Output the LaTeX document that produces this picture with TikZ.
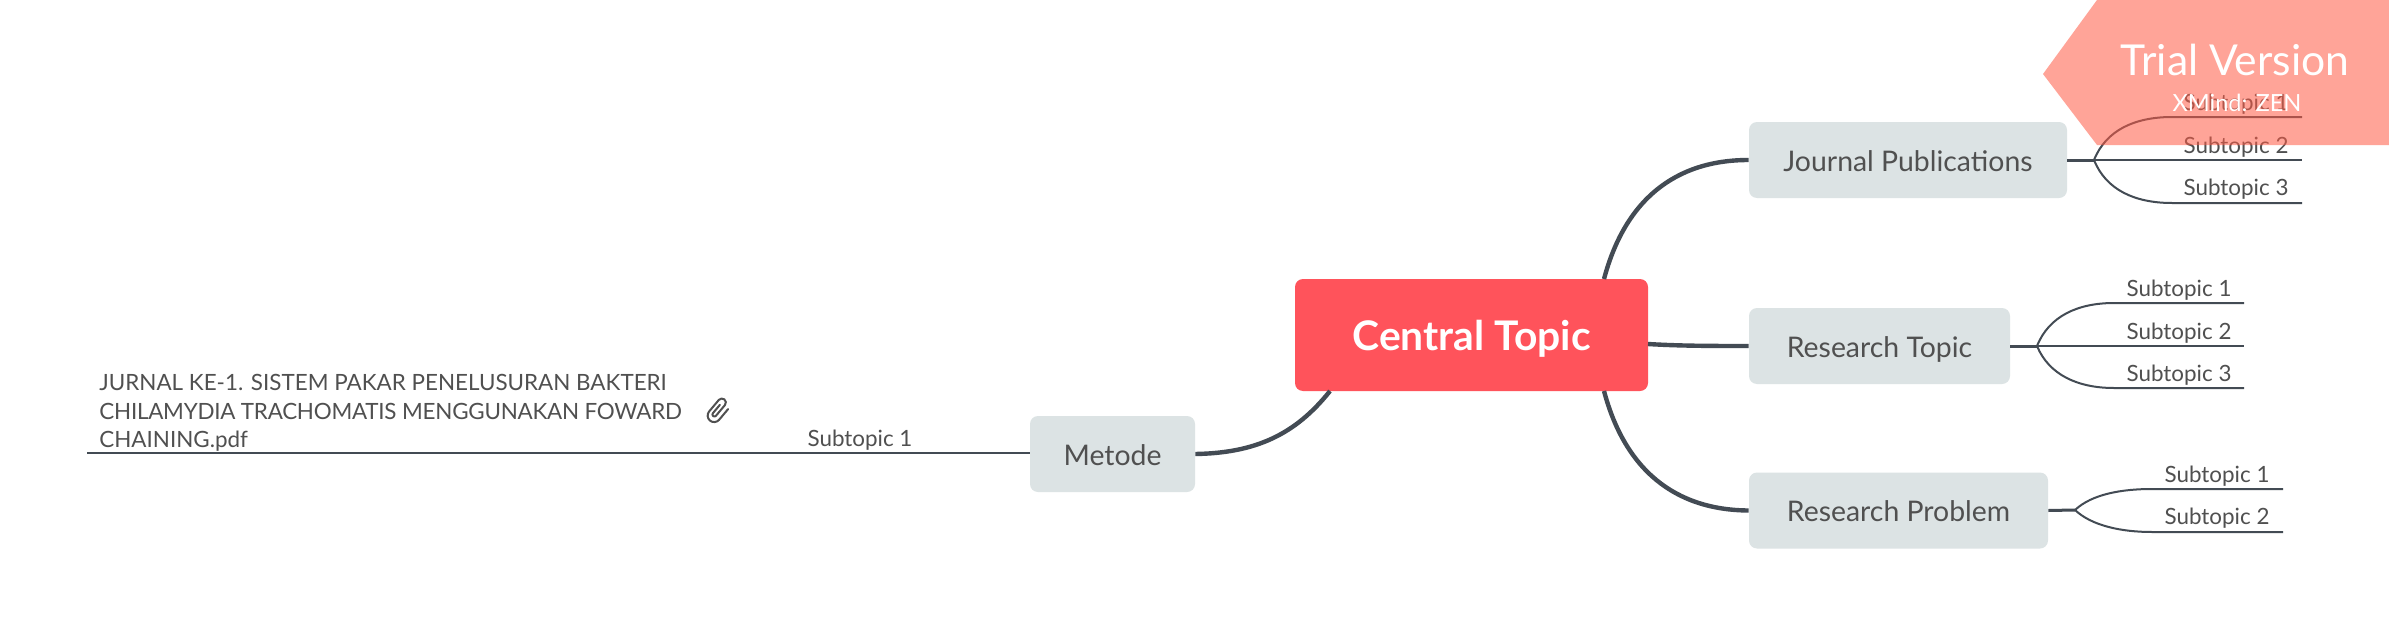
\documentclass[tikz,border=0pt]{standalone}
\usepackage{fontspec}
\setmainfont{Lato}
\definecolor{linec}{HTML}{434B54}
\definecolor{boxc}{HTML}{DCE3E4}
\definecolor{txtc}{HTML}{505050}
\definecolor{redc}{HTML}{FF535B}
\definecolor{banc}{HTML}{FF5A45}
\tikzset{
 main/.style={draw=none,fill=boxc,rounded corners=4pt,inner sep=0pt,text=txtc,text height=12pt,text depth=1pt,font=\fontsize{14.2}{17}\selectfont},
 stem/.style={draw=linec,line width=2.2pt},
 fork/.style={draw=linec,line width=1pt},
 stub/.style={draw=linec,line width=1.5pt},
 sub/.style={text=txtc,anchor=base,inner sep=0pt,font=\fontsize{11.2}{14}\selectfont},
}
\begin{document}
\begin{tikzpicture}[x=0.5pt,y=-0.5pt]
\useasboundingbox[fill=white] (0,0) rectangle (2389,637);
% start points on the central topic
\coordinate (cj) at (1604,279);
\coordinate (cr) at (1648,344);
\coordinate (cp) at (1604,391);
\coordinate (cm) at (1330,391);
% nodes
\node[fill=redc,rounded corners=4pt,inner sep=0pt,minimum width=176.5pt,minimum height=56pt,text=white,text height=16pt,text depth=1pt,font=\fontsize{20.4}{22}\selectfont\bfseries] (cen) at (1471.5,335) {Central Topic};
\node[main,minimum width=159pt,minimum height=38pt] (jp) at (1908,160) {Journal Publications};
\node[main,minimum width=130.5pt,minimum height=38pt] (rt) at (1879.5,346) {Research Topic};
\node[main,minimum width=149.5pt,minimum height=38pt] (rp) at (1898.5,510.5) {Research Problem};
\node[main,minimum width=82.5pt,minimum height=38pt] (me) at (1112.5,454) {Metode};
% main connectors
\draw[stem] (cj) .. controls (1625,200) and (1675,160) .. (jp.west);
\draw[stem] (cr) .. controls (1680,346) and (1715,346) .. (rt.west);
\draw[stem] (cp) .. controls (1625,470) and (1675,510) .. (rp.west);
\draw[stem] (cm) .. controls (1295,435) and (1255,453) .. (me.east);
% journal subtopics
\coordinate (jf) at (2094,160);
\coordinate (j1a) at (2172,117); \coordinate (j1b) at (2302,117);
\coordinate (j2a) at (2172,160); \coordinate (j2b) at (2302,160);
\coordinate (j3a) at (2172,203); \coordinate (j3b) at (2302,203);
\draw[stub] (jp.east) -- (jf);
\draw[fork] (jf) .. controls (2106,130) and (2135,117) .. (j1a) -- (j1b);
\draw[fork] (jf) -- (j2a) -- (j2b);
\draw[fork] (jf) .. controls (2106,190) and (2135,203) .. (j3a) -- (j3b);
\node[sub] (j1) at (2236,110) {Subtopic 1};
\node[sub] (j2) at (2236,153) {Subtopic 2};
\node[sub] (j3) at (2236,195) {Subtopic 3};
% research topic subtopics
\coordinate (rf) at (2037,346);
\coordinate (r1a) at (2114,303); \coordinate (r1b) at (2244,303);
\coordinate (r2a) at (2114,346); \coordinate (r2b) at (2244,346);
\coordinate (r3a) at (2114,388); \coordinate (r3b) at (2244,388);
\draw[stub] (rt.east) -- (rf);
\draw[fork] (rf) .. controls (2049,316) and (2078,303) .. (r1a) -- (r1b);
\draw[fork] (rf) -- (r2a) -- (r2b);
\draw[fork] (rf) .. controls (2049,375) and (2078,388) .. (r3a) -- (r3b);
\node[sub] (r1) at (2179,296) {Subtopic 1};
\node[sub] (r2) at (2179,339) {Subtopic 2};
\node[sub] (r3) at (2179,381) {Subtopic 3};
% research problem subtopics
\coordinate (pf) at (2075,510);
\coordinate (p1a) at (2152,489); \coordinate (p1b) at (2283,489);
\coordinate (p2a) at (2152,532); \coordinate (p2b) at (2283,532);
\draw[stub] (rp.east) -- (pf);
\draw[fork] (pf) .. controls (2092,494) and (2122,489) .. (p1a) -- (p1b);
\draw[fork] (pf) .. controls (2092,526) and (2122,532) .. (p2a) -- (p2b);
\node[sub] (p1) at (2217,482) {Subtopic 1};
\node[sub] (p2) at (2217,524) {Subtopic 2};
% metode side
\coordinate (ml) at (87,453);
\draw[fork] (me.west |- ml) -- (ml);
\node[sub] (m1) at (860,446) {Subtopic 1};
\node[text=txtc,anchor=west,align=left,inner sep=0pt,font=\fontsize{11.2}{14.1pt}\selectfont] (jur) at (99,413) {JURNAL KE-1. SISTEM PAKAR PENELUSURAN BAKTERI\\{\addfontfeature{LetterSpace=-1.1}CHILAMYDIA TRACHOMATIS MENGGUNAKAN FOWARD}\\CHAINING.pdf};
% paperclip
\begin{scope}[shift={(718,411)},x=0.5pt,y=0.5pt,rotate=-40]
\draw[txtc,line width=1pt,line cap=round,line join=round]
 (6.5,8) -- (6.5,-6) arc[start angle=0,end angle=-180,radius=6.5] -- (-6.5,9) arc[start angle=180,end angle=0,radius=4] -- (1.5,-5) arc[start angle=0,end angle=-180,radius=2] -- (-2.5,6);
\end{scope}
% trial banner
\path[fill=banc,fill opacity=0.55] (2097,0) -- (2043,74) -- (2097,145) -- (2389,145) -- (2389,0) -- cycle;
\node[text=white,anchor=base,inner sep=0pt,font=\fontsize{21.3}{24}\selectfont] (tv) at (2235,75) {Trial Version};
\node[text=white,anchor=base,inner sep=0pt,font=\fontsize{11.8}{14}\selectfont] (xz) at (2237,111) {XMind: ZEN};
\end{tikzpicture}
\end{document}
